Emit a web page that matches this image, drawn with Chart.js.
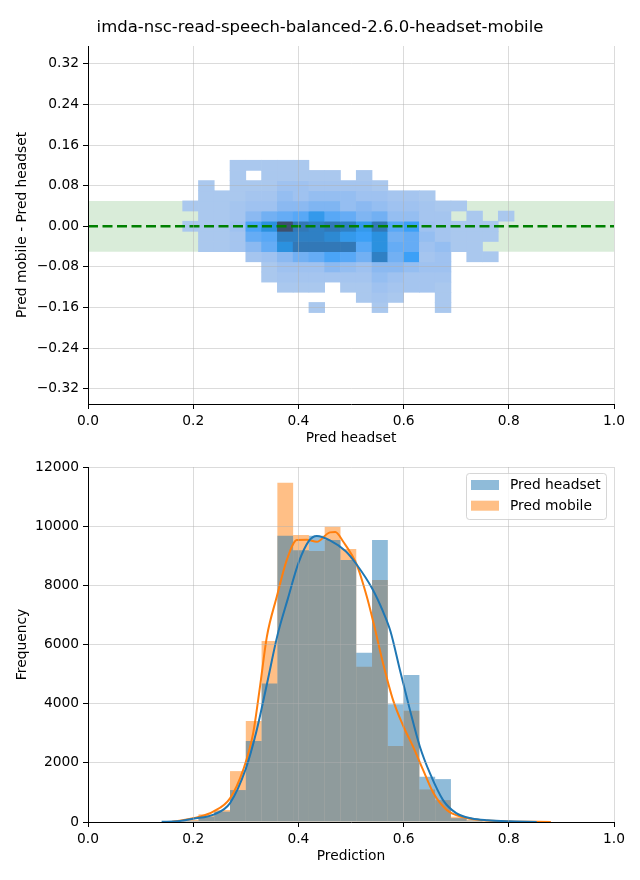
<!DOCTYPE html>
<html>
<head>
<meta charset="utf-8">
<script src="https://cdn.jsdelivr.net/npm/chart.js@4.4.1/dist/chart.umd.min.js"></script>
<style>
html,body{margin:0;padding:0;background:#ffffff;}
#wrap{position:relative;width:640px;height:880px;overflow:hidden;background:#ffffff;}
#wrap canvas{position:absolute;left:0;top:0;}
#title{position:absolute;left:0;top:17px;width:640px;text-align:center;font-family:"DejaVu Sans";font-size:16.5px;line-height:20px;color:#000;}
</style>
</head>
<body>
<div id="wrap">
  <canvas id="topChart" width="640" height="880"></canvas>
  <canvas id="bottomChart" width="640" height="880"></canvas>
  <div id="title"></div>
</div>
<script>
// ---------------- DATA ----------------
const chartTitle = 'imda-nsc-read-speech-balanced-2.6.0-headset-mobile';

// Top panel: 2D histogram of (Pred headset, Pred mobile - Pred headset)
const heatXBinEdges = [0.18,0.21,0.24,0.27,0.30,0.33,0.36,0.39,0.42,0.45,0.48,0.51,0.54,0.57,0.60,0.63,0.66,0.69,0.72,0.75,0.78,0.81];
const heatYBinEdges = [0.13,0.11,0.09,0.07,0.05,0.03,0.01,-0.01,-0.03,-0.05,-0.07,-0.09,-0.11,-0.13,-0.15,-0.17];
// relative count level per cell (0 = empty, 10 = densest); rows top -> bottom, columns left -> right
const heatDensity = [
  [0,0,0,1,1,1,1,1,0,0,0,0,0,0,0,0,0,0,0,0,0],
  [0,0,0,1,0,1,1,1,1,1,0,1,0,0,0,0,0,0,0,0,0],
  [0,1,0,1,1,1,2,2,1.5,1.5,1.5,1.5,1,0,0,0,0,0,0,0,0],
  [0,1,1,1,1.5,1.5,2.5,2,2.5,2.5,2.5,2,2,1.5,1.5,1,0,0,0,0,0],
  [1,1,1,1.5,2,2,3,3,3.5,3.5,2.5,3,2.5,2,2,1.5,1,1,0,0,0],
  [0,1,1,1.5,3,4,4.5,5,6.5,5,4.5,3.5,4,2.5,2.5,1.5,1.5,0,1,0,1],
  [1,1,1,2,5.5,7,10,8.5,8,8.5,8,6.5,8.5,5,6,2,1.5,1,1,1,0],
  [0,1,1,1.5,4.5,5,8,8,8,7.5,6.5,6,7,4,4.5,2.5,1.5,1,1,1,0],
  [0,1,1,1.5,3,4.5,7,8.5,8.5,8.5,8.5,5,7,4.5,4.5,2,2.5,1,1,0,0],
  [0,0,0,0,1.5,2,3,4,4.5,5.5,5,4,8,4,6,1.5,2,0,1,1,0],
  [0,0,0,0,0,1,2,2,2,3,2.5,2,3,3,2.5,2,2,0,0,0,0],
  [0,0,0,0,0,1,1.5,1.5,1.5,1.5,1.5,1.5,2.5,2,1.5,1.5,1.5,0,0,0,0],
  [0,0,0,0,0,0,1,1,1,0,1,1,2,1.5,1.5,1.5,1,0,0,0,0],
  [0,0,0,0,0,0,0,0,0,0,0,1,1.5,1,0,0,1,0,0,0,0],
  [0,0,0,0,0,0,0,0,1,0,0,0,1,0,0,0,1,0,0,0,0]
];
const toleranceBand = [-0.05, 0.05];
const zeroLineY = 0;
const topXTicks = [0,0.2,0.4,0.6,0.8,1.0];
const topXTickLabels = ['0.0','0.2','0.4','0.6','0.8','1.0'];
const topYTicks = [-0.32,-0.24,-0.16,-0.08,0,0.08,0.16,0.24,0.32];
const topYTickLabels = ['\u22120.32','\u22120.24','\u22120.16','\u22120.08','0.00','0.08','0.16','0.24','0.32'];

// Bottom panel: histograms + KDE
const seriesNames = ['Pred headset','Pred mobile'];
const histBinEdges = [0.15,0.18,0.21,0.24,0.27,0.30,0.33,0.36,0.39,0.42,0.45,0.48,0.51,0.54,0.57,0.60,0.63,0.66,0.69,0.72,0.75,0.78,0.81,0.84];
const headsetCounts = [10,40,180,350,1080,2740,4680,9680,9190,9680,9530,8860,5720,9530,3980,4970,1530,1450,130,50,20,10,5];
const mobileCounts  = [15,70,260,405,1720,3410,6120,11470,9700,9160,9980,9230,5250,8180,2570,3760,1100,740,180,60,25,15,10];
const kdeHeadsetX = [0.14,0.17,0.20,0.24,0.27,0.30,0.32,0.34,0.36,0.38,0.40,0.42,0.435,0.46,0.49,0.51,0.54,0.56,0.575,0.593,0.612,0.631,0.65,0.675,0.70,0.73,0.76,0.80,0.853];
const kdeHeadsetY = [5,25,110,260,640,1800,3050,4650,6300,7550,8750,9500,9670,9520,9150,8720,7900,7150,6450,5140,3790,2545,1650,740,300,120,60,25,3];
const kdeMobileX = [0.16,0.18,0.21,0.238,0.27,0.295,0.314,0.327,0.34,0.359,0.378,0.397,0.416,0.435,0.46,0.47,0.485,0.511,0.53,0.543,0.561,0.58,0.60,0.618,0.637,0.657,0.682,0.714,0.745,0.80,0.88];
const kdeMobileY = [5,60,170,350,800,1760,3000,4575,6260,7620,8860,9530,9540,9470,9790,9800,9480,8690,7620,6715,5360,4120,3220,2545,1760,970,405,160,70,20,2];
const bottomXTicks = [0,0.2,0.4,0.6,0.8,1.0];
const bottomXTickLabels = ['0.0','0.2','0.4','0.6','0.8','1.0'];
const bottomYTicks = [0,2000,4000,6000,8000,10000,12000];
const bottomYTickLabels = ['0','2000','4000','6000','8000','10000','12000'];

// ---------------- STYLE ----------------
document.getElementById('title').textContent = chartTitle;
Chart.defaults.font.family = 'DejaVu Sans';
Chart.defaults.color = '#000';
const FONT = {family: 'DejaVu Sans', size: 13.8};
const GRID = 'rgba(176,176,176,0.45)';
const heatRamp = [[255,255,255],[170,200,238],[159,194,240],[139,185,241],[114,176,243],[88,168,246],[60,160,247],[43,145,223],[47,128,196],[53,112,169],[61,79,109]];
function rampColor(d) {
  const lo = Math.floor(d), hi = Math.ceil(d), t = d - lo;
  const a = heatRamp[lo], b = heatRamp[hi];
  const c = a.map((v, i) => Math.round(v + (b[i] - v) * t));
  return 'rgb(' + c.join(',') + ')';
}

function makeScale(ticks, labels, min, max, title, isX, titlePad, fitSize, skipGridAt) {
  return {
    type: 'linear', min: min, max: max, offset: false,
    afterBuildTicks: s => { s.ticks = ticks.map(v => ({value: v})); },
    afterFit: s => { if (isX) s.height = fitSize; else s.width = fitSize; },
    grid: {z: 1,
           color: c => (skipGridAt !== undefined && c.tick && c.tick.value === skipGridAt) ? 'rgba(0,0,0,0)' : GRID,
           lineWidth: 1, drawTicks: true, tickLength: 5, tickColor: '#000', tickWidth: 1, offset: false},
    border: {display: true, color: '#000', width: 1, z: 2},
    ticks: {autoSkip: false, maxRotation: 0, minRotation: 0, padding: 4, color: '#000', font: FONT,
            callback: (v, i) => labels[i]},
    title: {display: true, text: title, color: '#000', font: FONT, padding: titlePad}
  };
}

// ---------------- TOP CHART ----------------
const heatDatasets = heatDensity.map((row, r) => {
  const pts = [], cols = [];
  row.forEach((d, c) => {
    if (d > 0) {
      pts.push({x: (heatXBinEdges[c] + heatXBinEdges[c + 1]) / 2, y: [heatYBinEdges[r + 1], heatYBinEdges[r]]});
      cols.push(rampColor(d));
    }
  });
  return {type: 'bar', data: pts, backgroundColor: cols, borderWidth: 0, grouped: false,
          barPercentage: 1, categoryPercentage: 1, order: 1};
});

new Chart(document.getElementById('topChart'), {
  type: 'bar',
  data: {
    datasets: [
      {type: 'line', data: [{x: 0, y: zeroLineY}, {x: 1, y: zeroLineY}], borderColor: '#008000',
       borderWidth: 2.6, borderDash: [10, 4.5], pointRadius: 0, fill: false, order: 0},
      ...heatDatasets,
      {type: 'line', data: [{x: 0, y: toleranceBand[1]}, {x: 1, y: toleranceBand[1]}],
       borderWidth: 0, borderColor: 'rgba(0,0,0,0)', pointRadius: 0,
       backgroundColor: 'rgba(0,128,0,0.15)', fill: {value: toleranceBand[0]}, order: 2}
    ]
  },
  options: {
    responsive: false, animation: false, events: [], devicePixelRatio: 1,
    layout: {padding: {top: 46, left: 0, right: 26, bottom: 425}},
    plugins: {legend: {display: false}, tooltip: {enabled: false}, title: {display: false}},
    scales: {
      x: makeScale(topXTicks, topXTickLabels, 0, 1, 'Pred headset', true, {top: 0, bottom: 8}, 51),
      y: makeScale(topYTicks, topYTickLabels, -0.35, 0.355, 'Pred mobile - Pred headset', false, {top: 14, bottom: 0}, 88, zeroLineY)
    }
  }
});

// ---------------- BOTTOM CHART ----------------
const histCenters = histBinEdges.slice(0, -1).map((e, i) => (e + histBinEdges[i + 1]) / 2);
const boxLegend = {
  id: 'boxLegend',
  afterDraw(chart) {
    const {ctx, chartArea} = chart;
    const x0 = chartArea.right - 147.5, y0 = chartArea.top + 6.5, w = 140, h = 46;
    ctx.save();
    ctx.beginPath();
    if (ctx.roundRect) ctx.roundRect(x0, y0, w, h, 3); else ctx.rect(x0, y0, w, h);
    ctx.fillStyle = 'rgba(255,255,255,0.8)';
    ctx.fill();
    ctx.strokeStyle = 'rgba(204,204,204,0.8)';
    ctx.lineWidth = 1;
    ctx.stroke();
    const items = chart.data.datasets.filter(d => d.type === 'bar');
    items.forEach((d, i) => {
      ctx.fillStyle = d.backgroundColor;
      ctx.fillRect(x0 + 4.5, y0 + 6.5 + i * 20.7, 28, 10);
      ctx.fillStyle = '#000';
      ctx.font = '13.8px "DejaVu Sans"';
      ctx.textBaseline = 'middle';
      ctx.textAlign = 'left';
      ctx.fillText(d.label, x0 + 43.5, y0 + 12 + i * 20.7);
    });
    ctx.restore();
  }
};

new Chart(document.getElementById('bottomChart'), {
  type: 'bar',
  data: {
    datasets: [
      {type: 'line', label: seriesNames[0] + ' KDE', data: kdeHeadsetX.map((x, i) => ({x: x, y: kdeHeadsetY[i]})),
       borderColor: '#1f77b4', borderWidth: 2, pointRadius: 0, fill: false, cubicInterpolationMode: 'monotone', order: 0},
      {type: 'line', label: seriesNames[1] + ' KDE', data: kdeMobileX.map((x, i) => ({x: x, y: kdeMobileY[i]})),
       borderColor: '#ff7f0e', borderWidth: 2, pointRadius: 0, fill: false, cubicInterpolationMode: 'monotone', order: 1},
      {type: 'bar', label: seriesNames[0], data: histCenters.map((x, i) => ({x: x, y: headsetCounts[i]})),
       backgroundColor: 'rgba(31,119,180,0.5)', borderWidth: 0, grouped: false, barPercentage: 1,
       categoryPercentage: 1, inflateAmount: 0, order: 2},
      {type: 'bar', label: seriesNames[1], data: histCenters.map((x, i) => ({x: x, y: mobileCounts[i]})),
       backgroundColor: 'rgba(255,127,14,0.5)', borderWidth: 0, grouped: false, barPercentage: 1,
       categoryPercentage: 1, inflateAmount: 0, order: 3}
    ]
  },
  options: {
    responsive: false, animation: false, events: [], devicePixelRatio: 1,
    layout: {padding: {top: 467, left: 0, right: 26, bottom: 6}},
    plugins: {legend: {display: false}, tooltip: {enabled: false}, title: {display: false}},
    scales: {
      x: makeScale(bottomXTicks, bottomXTickLabels, 0, 1, 'Prediction', true, {top: 0, bottom: 9}, 52),
      y: makeScale(bottomYTicks, bottomYTickLabels, 0, 12000, 'Frequency', false, {top: 14, bottom: 0}, 88)
    }
  },
  plugins: [boxLegend]
});
</script>
</body>
</html>
